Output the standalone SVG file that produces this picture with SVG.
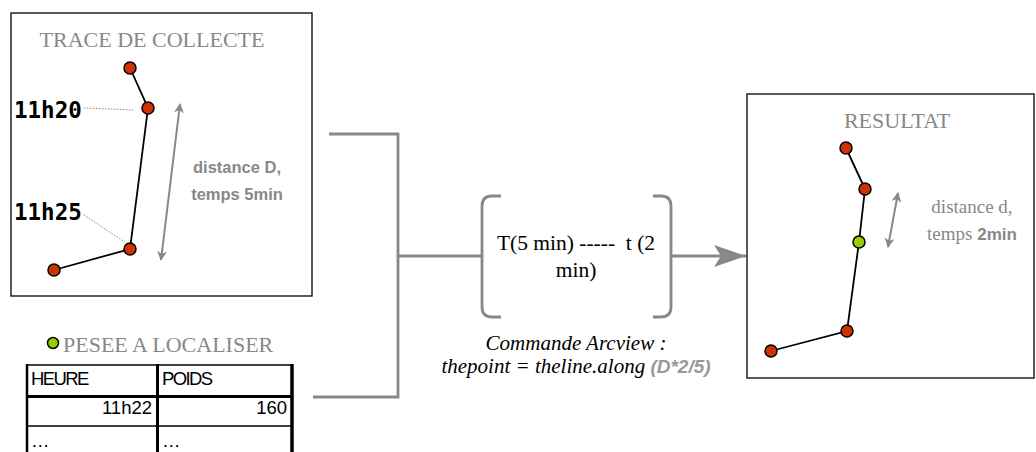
<svg xmlns="http://www.w3.org/2000/svg" width="1036" height="452" viewBox="0 0 1036 452">
<defs>
<marker id="ah" viewBox="0 0 10 10" refX="9" refY="5" markerWidth="5" markerHeight="5" orient="auto-start-reverse">
<path d="M0,0 L10,5 L0,10 L3,5 z" fill="#888"/>
</marker>
<marker id="big" viewBox="0 0 32 22" refX="32" refY="11" markerWidth="32" markerHeight="22" markerUnits="userSpaceOnUse" orient="auto">
<path d="M0,0 L32,11 L0,22 L7,11 z" fill="#888"/>
</marker>
</defs>
<style>
.box{fill:#fff;stroke:#000;stroke-width:1.3}
.trk{fill:none;stroke:#000;stroke-width:1.8}
.red{fill:#CC3300;stroke:#000;stroke-width:1.5}
.grn{fill:#99CC00;stroke:#000;stroke-width:1.5}
.ttl{font-family:"Liberation Serif",serif;font-size:22px;fill:#888;text-anchor:middle}
.ser{font-family:"Liberation Serif",serif;font-size:19px;fill:#888}
.sb{font-family:"Liberation Sans",sans-serif;font-weight:bold;fill:#888}
.mono{font-family:"DejaVu Sans Mono",monospace;font-weight:bold;font-size:22.5px;fill:#000}
.dot{stroke:#888;stroke-width:1;stroke-dasharray:1.5 1.5;fill:none}
.dbl{stroke:#888;stroke-width:2;fill:none;marker-start:url(#ah);marker-end:url(#ah)}
.con{stroke:#888;stroke-width:2.8;fill:none}
.tb{font-family:"Liberation Sans",sans-serif;font-size:18.5px;fill:#000}
.tl{stroke:#000;fill:none}
.cap{font-family:"Liberation Serif",serif;font-size:21px;font-style:italic;fill:#000;text-anchor:middle}
.frm{font-family:"Liberation Serif",serif;font-size:21.5px;fill:#000;text-anchor:middle;white-space:pre}
</style>

<g id="trace">
<rect class="box" x="11" y="13" width="301" height="283"/>
<text class="ttl" x="152" y="47" font-size="20.5">TRACE DE COLLECTE</text>
<polyline class="trk" points="130,68 148,108 130,249 54,270"/>
<circle class="red" cx="130" cy="68" r="6"/>
<circle class="red" cx="148" cy="108" r="6"/>
<circle class="red" cx="130" cy="249" r="6"/>
<circle class="red" cx="54" cy="270" r="6"/>
<text class="mono" x="14" y="118">11h20</text>
<text class="mono" x="14" y="220">11h25</text>
<line class="dot" x1="84" y1="108" x2="134" y2="110"/>
<line class="dot" x1="84" y1="215" x2="126" y2="243"/>
<line class="dbl" x1="180" y1="104" x2="161" y2="260"/>
<text class="sb" font-size="16.5" x="237" y="173" text-anchor="middle">distance D,</text>
<text class="sb" font-size="16.5" x="237" y="200" text-anchor="middle">temps 5min</text>
</g>

<g id="pesee">
<circle class="grn" cx="53" cy="343" r="5.5"/>
<text class="ttl" x="63" y="352" text-anchor="start" style="text-anchor:start" font-size="21.5">PESEE A LOCALISER</text>
<line class="tl" x1="26" y1="365" x2="293" y2="365" stroke-width="1.5"/>
<line class="tl" x1="26" y1="396.5" x2="293" y2="396.5" stroke-width="3"/>
<line class="tl" x1="26" y1="426" x2="293" y2="426" stroke-width="1.5"/>
<line class="tl" x1="27" y1="364" x2="27" y2="452" stroke-width="2.5"/>
<line class="tl" x1="157.5" y1="364" x2="157.5" y2="452" stroke-width="3"/>
<line class="tl" x1="292" y1="364" x2="292" y2="452" stroke-width="3.5"/>
<text class="tb" x="31" y="385" letter-spacing="-1.6">HEURE</text>
<text class="tb" x="162" y="385" letter-spacing="-1.6">POIDS</text>
<text class="tb" x="152" y="414" text-anchor="end">11h22</text>
<text class="tb" x="287" y="414" text-anchor="end">160</text>
<text class="tb" x="31" y="447">…</text>
<text class="tb" x="162" y="447">…</text>
</g>

<g id="connectors">
<polyline class="con" points="329,134 398,134 398,397 313,397"/>
<line class="con" x1="398" y1="256" x2="482" y2="256"/>
<line class="con" x1="671" y1="256" x2="746" y2="256" marker-end="url(#big)"/>
</g>

<g id="formule">
<path class="con" d="M501,196 H492 Q482,196 482,206 V307 Q482,317 492,317 H501"/>
<path class="con" d="M653,196 H661 Q671,196 671,206 V307 Q671,317 661,317 H653"/>
<text class="frm" x="576" y="250" xml:space="preserve">T(5 min) -----  t (2</text>
<text class="frm" x="576" y="277">min)</text>
<text class="cap" x="576" y="350">Commande Arcview :</text>
<text class="cap" x="576" y="373">thepoint = theline.along <tspan font-family="Liberation Sans, sans-serif" font-weight="bold" font-size="19" fill="#999">(D*2/5)</tspan></text>
</g>

<g id="resultat">
<rect class="box" x="747" y="94" width="287" height="284"/>
<text class="ttl" x="897" y="128">RESULTAT</text>
<polyline class="trk" points="846,148 865,189 859,242 847,331 771,351"/>
<circle class="red" cx="846" cy="148" r="6"/>
<circle class="red" cx="865" cy="189" r="6"/>
<circle class="grn" cx="859" cy="242" r="6"/>
<circle class="red" cx="847" cy="331" r="6"/>
<circle class="red" cx="771" cy="351" r="6"/>
<line class="dbl" x1="898" y1="193" x2="888" y2="247"/>
<text class="ser" x="972" y="213" text-anchor="middle">distance d,</text>
<text class="ser" x="972" y="240" text-anchor="middle">temps <tspan class="sb" font-size="17">2min</tspan></text>
</g>
</svg>
